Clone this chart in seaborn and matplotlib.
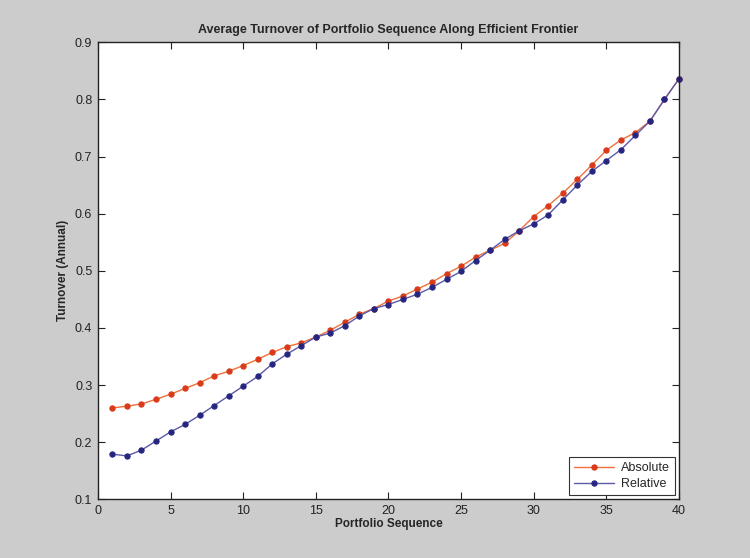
import numpy as np
import pandas as pd
import matplotlib
matplotlib.use("Agg")
import matplotlib.pyplot as plt
import seaborn as sns

# values
seq = list(range(1, 41))
absolute = [0.260, 0.263, 0.267, 0.275, 0.284, 0.294, 0.304, 0.316, 0.324, 0.334,
            0.345, 0.357, 0.367, 0.374, 0.384, 0.396, 0.410, 0.424, 0.434, 0.447,
            0.456, 0.468, 0.480, 0.495, 0.508, 0.524, 0.536, 0.548, 0.570, 0.595,
            0.614, 0.636, 0.660, 0.685, 0.711, 0.729, 0.742, 0.762, 0.800, 0.836]
relative = [0.179, 0.176, 0.186, 0.202, 0.218, 0.231, 0.247, 0.264, 0.281, 0.298,
            0.315, 0.337, 0.354, 0.369, 0.384, 0.391, 0.404, 0.421, 0.434, 0.441,
            0.450, 0.459, 0.471, 0.485, 0.499, 0.518, 0.536, 0.555, 0.570, 0.582,
            0.598, 0.624, 0.650, 0.674, 0.693, 0.712, 0.737, 0.762, 0.800, 0.836]
series_names = ["Absolute", "Relative"]

df = pd.DataFrame({
    "Portfolio Sequence": seq * 2,
    "Turnover": absolute + relative,
    "Series": [series_names[0]] * len(seq) + [series_names[1]] * len(seq),
})

sns.set_style("ticks")
plt.rcParams["font.family"] = ["Liberation Sans", "DejaVu Sans"]

fig = plt.figure(figsize=(7.5, 5.58), dpi=100, facecolor="#cccccc")
ax = fig.add_axes([0.1305, 0.1052, 0.7748, 0.819])
ax.set_facecolor("white")

line_colors = {"Absolute": "#f0703a", "Relative": "#5a5aa8"}
marker_colors = {"Absolute": "#d83a1a", "Relative": "#262680"}

for name in series_names:
    sub = df[df["Series"] == name]
    sns.lineplot(data=sub, x="Portfolio Sequence", y="Turnover", ax=ax,
                 color=line_colors[name], linewidth=1.0, marker="o",
                 markersize=3.8, markerfacecolor=marker_colors[name],
                 markeredgecolor=marker_colors[name], label=name, clip_on=False)

ax.set_xlim(0, 40)
ax.set_ylim(0.1, 0.9)
ax.set_xticks(range(0, 41, 5))
ax.set_yticks(np.arange(0.1, 0.91, 0.1))
ax.set_yticklabels([f"{v:.1f}" for v in np.arange(0.1, 0.91, 0.1)])
ax.tick_params(direction="in", length=5, width=0.8, top=True, right=True,
               labelsize=9, colors="#222222", pad=4)
for s in ax.spines.values():
    s.set_visible(True)
    s.set_color("#222222")
    s.set_linewidth(1.0)

ax.set_title("Average Turnover of Portfolio Sequence Along Efficient Frontier",
             fontsize=9, fontweight="bold", pad=7)
ax.set_xlabel("Portfolio Sequence", fontsize=8.5, fontweight="bold", labelpad=1)
ax.set_ylabel("Turnover (Annual)", fontsize=8.5, fontweight="bold", labelpad=4)

leg = ax.legend(loc="lower right", fontsize=9, frameon=True, fancybox=False,
                borderpad=0.4, handlelength=3.2, labelspacing=0.3,
                borderaxespad=0.35, handletextpad=0.5)
leg.get_frame().set_edgecolor("#333333")
leg.get_frame().set_linewidth(0.8)
leg.get_frame().set_alpha(1)

fig.savefig("out.png", dpi=100, facecolor=fig.get_facecolor())
